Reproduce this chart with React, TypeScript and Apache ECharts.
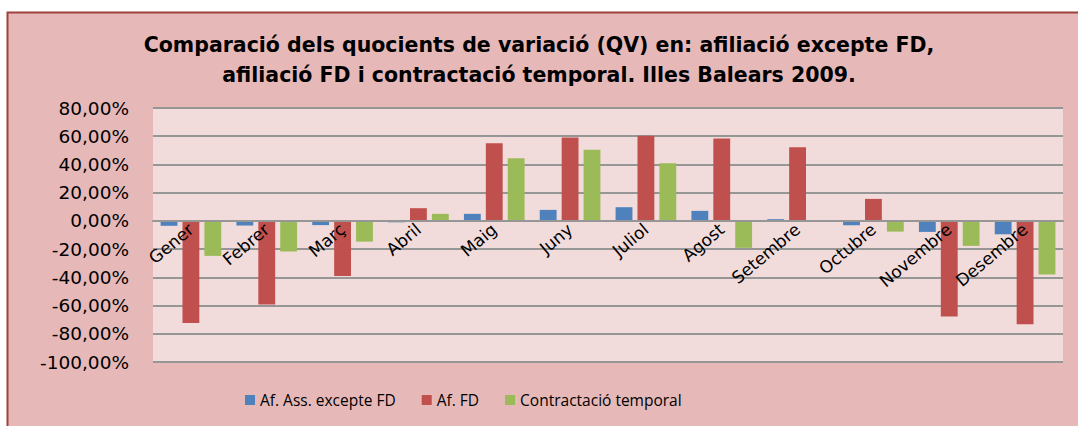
import React, { useEffect, useRef } from "react";
import * as echarts from "echarts";

const categories = ["Gener", "Febrer", "Març", "Abril", "Maig", "Juny", "Juliol", "Agost", "Setembre", "Octubre", "Novembre", "Desembre"];
const afAssExcepteFD = [-3.5, -3.3, -3.0, -1.0, 5.0, 7.8, 9.7, 7.1, 1.2, -3.1, -7.8, -9.5];
const afFD = [-72.3, -59.3, -39.0, 9.0, 55.1, 59.1, 60.3, 58.4, 52.2, 15.6, -67.8, -73.3];
const contractacioTemporal = [-24.8, -21.7, -14.7, 5.0, 44.4, 50.4, 40.9, -19.1, 0.3, -7.6, -17.7, -38.0];
const seriesNames = ["Af. Ass. excepte FD", "Af. FD", "Contractació temporal"];
const colors = ["#4F81BD", "#C0504D", "#9BBB59"];
const titleText = "Comparació dels quocients de variació (QV) en: afiliació excepte FD,\nafiliació FD i contractació temporal. Illes Balears 2009.";

const FONT = "'Open Sans', 'Noto Sans', sans-serif";
const WIDE = "'DejaVu Sans', sans-serif";

const GRID_TOP = 108;
const GRID_BOTTOM = 64;
const CHART_H = 426;
const Y_MIN = -100;
const Y_MAX = 80;

export default function App() {
  const ref = useRef<HTMLDivElement>(null);
  useEffect(() => {
    if (!ref.current) return;
    const chart = echarts.init(ref.current, null, { renderer: "svg" });
    const data = [afAssExcepteFD, afFD, contractacioTemporal];
    const gridH = CHART_H - GRID_TOP - GRID_BOTTOM;
    const zeroY = GRID_TOP + (gridH * Y_MAX) / (Y_MAX - Y_MIN);
    const bottomY = CHART_H - GRID_BOTTOM;
    chart.setOption({
      animation: false,
      backgroundColor: "#ffffff",
      graphic: [
        {
          type: "rect",
          shape: { x: 7.5, y: 12.5, width: 1080, height: 420 },
          style: { fill: "#E6B9B8", stroke: "#A0403D", lineWidth: 2 },
          z: -10,
        },
      ],
      title: {
        text: titleText,
        left: "center",
        top: 25,
        textStyle: { fontFamily: WIDE, fontWeight: "bold", fontSize: 20.5, lineHeight: 30, color: "#000" },
      },
      legend: {
        bottom: 13,
        left: 240,
        itemWidth: 10,
        itemHeight: 10,
        itemGap: 26,
        icon: "rect",
        textStyle: { fontFamily: FONT, fontSize: 15.5, color: "#000" },
        data: seriesNames,
      },
      grid: {
        left: 153,
        right: 15,
        top: GRID_TOP,
        bottom: GRID_BOTTOM,
        show: true,
        backgroundColor: "#F2DCDB",
        borderWidth: 0,
      },
      xAxis: {
        type: "category",
        data: categories,
        z: 10,
        offset: -(bottomY - zeroY),
        axisLine: { onZero: false, lineStyle: { color: "#969696", width: 2 } },
        axisTick: { show: false },
        axisLabel: {
          rotate: 40,
          fontFamily: WIDE,
          fontSize: 17,
          color: "#000",
          margin: 6,
          interval: 0,
        },
      },
      yAxis: {
        type: "value",
        min: Y_MIN,
        max: Y_MAX,
        interval: 20,
        axisLine: { show: false },
        axisTick: { show: false },
        splitLine: { lineStyle: { color: "#969696", width: 2 } },
        axisLabel: {
          fontFamily: WIDE,
          fontSize: 18.5,
          color: "#000",
          margin: 24,
          formatter: (v: number) => `${v},00%`,
        },
      },
      series: seriesNames.map((name, i) => ({
        name,
        type: "bar",
        data: data[i],
        barGap: "30%",
        barCategoryGap: "20%",
        itemStyle: { color: colors[i] },
      })),
    });
    return () => chart.dispose();
  }, []);
  return (
    <div
      ref={ref}
      style={{ position: "fixed", left: 0, top: 0, width: 1078, height: 426 }}
    />
  );
}
